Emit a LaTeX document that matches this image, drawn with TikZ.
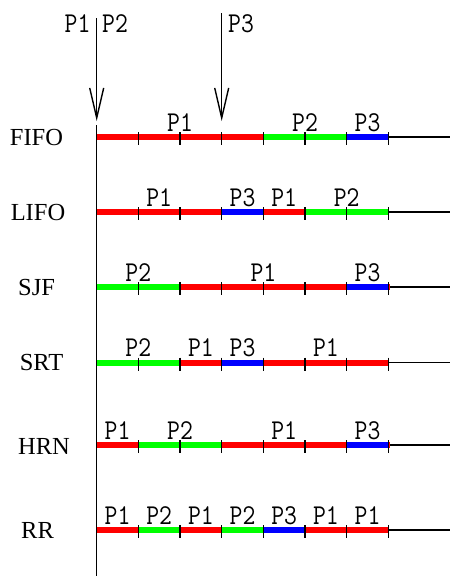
\documentclass[tikz,border=0pt]{standalone}
\usepackage{fontspec}
\setmainfont{Liberation Serif}
\usetikzlibrary{arrows.meta}
\definecolor{pred}{RGB}{255,0,0}
\definecolor{pgreen}{RGB}{0,255,0}
\definecolor{pblue}{RGB}{0,0,255}
\tikzset{
  bar/.style={line width=6pt},
  timeline/.style={line width=1.2pt, black},
  tickmark/.style={line width=1.4pt, black},
  axisline/.style={line width=1.5pt, black},
  arrivalarrow/.style={line width=1.3pt, black, -{Straight Barb[length=30pt,width=14pt,line width=1.4pt]}},
  plab/.style={anchor=base, inner sep=0pt, font=\ttfamily\fontsize{25}{25}\selectfont},
  rlab/.style={anchor=base, inner sep=0pt, font=\fontsize{24.5}{25}\selectfont},
}
\newcommand\pl[1]{\scalebox{1}[1.15]{#1}}
\newcommand\schedrow[4]{%
  \coordinate (#1-s) at (96.7,#2);
  \coordinate (#1-e) at (450,#2);
  \draw[timeline] (#1-s) -- (#1-e);
  \foreach \a/\b/\c in {#3} \draw[bar,\c] (96.7+\a*41.67,#2) -- (96.7+\b*41.67,#2);
  \foreach \t in {1,...,7} \draw[tickmark] (96.7+\t*41.67,#2-5) -- (96.7+\t*41.67,#2+8);
  \foreach \m/\p [count=\i] in {#4} \node[plab] (#1-l\i) at (96.7+\m*41.67,#2-6) {\pl{\p}};
}
\begin{document}
\begin{tikzpicture}[x=1pt,y=-1pt]
\useasboundingbox (0,0) rectangle (451,576);
% vertical axis
\coordinate (axtop) at (96.7,125);
\coordinate (axbot) at (96.7,576);
\draw[axisline] (axtop) -- (axbot);
% rows
\schedrow{fifo}{137}{0/4/pred,4/6/pgreen,6/7/pblue}{2/P1,5/P2,6.5/P3}
\schedrow{lifo}{212}{0/3/pred,3/4/pblue,4/5/pred,5/7/pgreen}{1.5/P1,3.5/P3,4.5/P1,6/P2}
\schedrow{sjf}{287}{0/2/pgreen,2/6/pred,6/7/pblue,7/7.05/pred}{1/P2,4/P1,6.5/P3}
\schedrow{srt}{362.5}{0/2/pgreen,2/3/pred,3/4/pblue,4/7/pred}{1/P2,2.5/P1,3.5/P3,5.5/P1}
\schedrow{hrn}{445}{0/1/pred,1/3/pgreen,3/6/pred,6/7/pblue,7/7.05/pred}{0.5/P1,2/P2,4.5/P1,6.5/P3}
\schedrow{rr}{530}{0/1/pred,1/2/pgreen,2/3/pred,3/4/pgreen,4/5/pblue,5/7/pred}{0.5/P1,1.5/P2,2.5/P1,3.5/P2,4.5/P3,5.5/P1,6.5/P1}
% row labels
\node[rlab] (nfifo) at (36.5,145) {FIFO};
\node[rlab] (nlifo) at (38,220) {LIFO};
\node[rlab] (nsjf) at (36.6,295) {SJF};
\node[rlab] (nsrt) at (41.5,370.5) {SRT};
\node[rlab] (nhrn) at (44,454) {HRN};
\node[rlab] (nrr) at (37.5,538) {RR};
% arrival arrows
\coordinate (a12s) at (96.7,18);
\coordinate (a12e) at (96.7,121);
\draw[arrivalarrow] (a12s) -- (a12e);
\coordinate (a3s) at (221.7,13);
\coordinate (a3e) at (221.7,121);
\draw[arrivalarrow] (a3s) -- (a3e);
\node[plab] (tp1) at (77.5,32) {\pl{P1}};
\node[plab] (tp2) at (115,32) {\pl{P2}};
\node[plab] (tp3) at (241,32) {\pl{P3}};
\end{tikzpicture}
\end{document}
